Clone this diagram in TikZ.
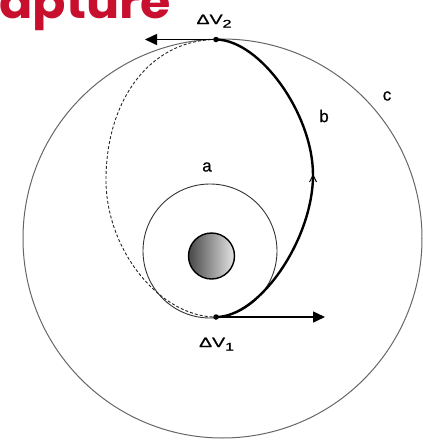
\documentclass[tikz,border=0pt]{standalone}
\usepackage{fontspec}
\setmainfont{Liberation Sans}
\newfontfamily\titlefont{Poppins}
\newfontfamily\lblfont[FakeBold=0.7]{Liberation Sans}
\usetikzlibrary{arrows.meta}
\definecolor{capred}{RGB}{200,16,46}
\newcommand{\dvtext}[1]{\scalebox{1.45}[1]{\lblfont\fontsize{13.5}{15}\selectfont ΔV\raisebox{-3.5pt}{\fontsize{11}{12}\selectfont #1}}}
\tikzset{
  orbitline/.style={draw=black!60, line width=1pt},
  innerline/.style={draw=black!80, line width=0.9pt},
  transfer/.style={line width=2.4pt, black},
  dashpart/.style={black!85, line width=0.9pt, dash pattern=on 3pt off 2pt},
  dvdot/.style={circle, fill=black, inner sep=0pt, minimum size=5.5pt},
  vec/.style={line width=1.5pt, -{Triangle[length=12pt,width=11pt]}},
  lbl/.style={font=\lblfont\fontsize{17}{19}\selectfont, inner sep=0pt},
  dvlbl/.style={inner sep=0pt, anchor=base},
}
\begin{document}
\begin{tikzpicture}[x=1pt,y=-1pt]
\useasboundingbox (0,0) rectangle (423,440);
% title (clipped at the top edge)
\node[anchor=base west, inner sep=0pt, text=capred, font=\titlefont\bfseries\fontsize{46}{50}\selectfont] (title) at (-1,18.5) {\scalebox{1.07}[1]{apture}};
% outer orbit c
\node[circle, orbitline, minimum size=399pt, inner sep=0pt] (orbitC) at (222.5,238.5) {};
% inner orbit a
\node[circle, innerline, minimum size=134pt, inner sep=0pt] (orbitA) at (210,251) {};
% planet
\node[circle, draw=black, line width=1.4pt, minimum size=46pt, inner sep=0pt, left color=black!72, right color=black!10] (planet) at (211.5,256) {};
% burn points
\node[dvdot] (dv1) at (216,317) {};
\node[dvdot] (dv2) at (216,39.5) {};
\coordinate (right) at (313,175);
\coordinate (left) at (106,180);
% dashed half of transfer ellipse
\draw[dashpart] (dv2.center) .. controls (150,40) and (106,100) .. (left)
  .. controls (106,250) and (160,317) .. (dv1.center);
% thick half
\draw[transfer] (dv1.center) .. controls (260,317) and (313,239) .. (right)
  .. controls (313,114) and (260,40) .. (dv2.center);
% direction chevron
\draw[line width=0.9pt] (309.5,182) -- (313,175) -- (316.5,182);
% burn vectors
\coordinate (t1) at (325,317);
\coordinate (t2) at (145,39.5);
\draw[vec] (dv1.center) -- (t1);
\draw[vec] (dv2.center) -- (t2);
% labels
\node[dvlbl] (l2) at (214,24) {\dvtext{2}};
\node[dvlbl] (l1) at (216.5,347) {\dvtext{1}};
\node[lbl] (la) at (207,167) {a};
\node[lbl] (lb) at (324,116) {b};
\node[lbl] (lc) at (387,96) {c};
\end{tikzpicture}
\end{document}
